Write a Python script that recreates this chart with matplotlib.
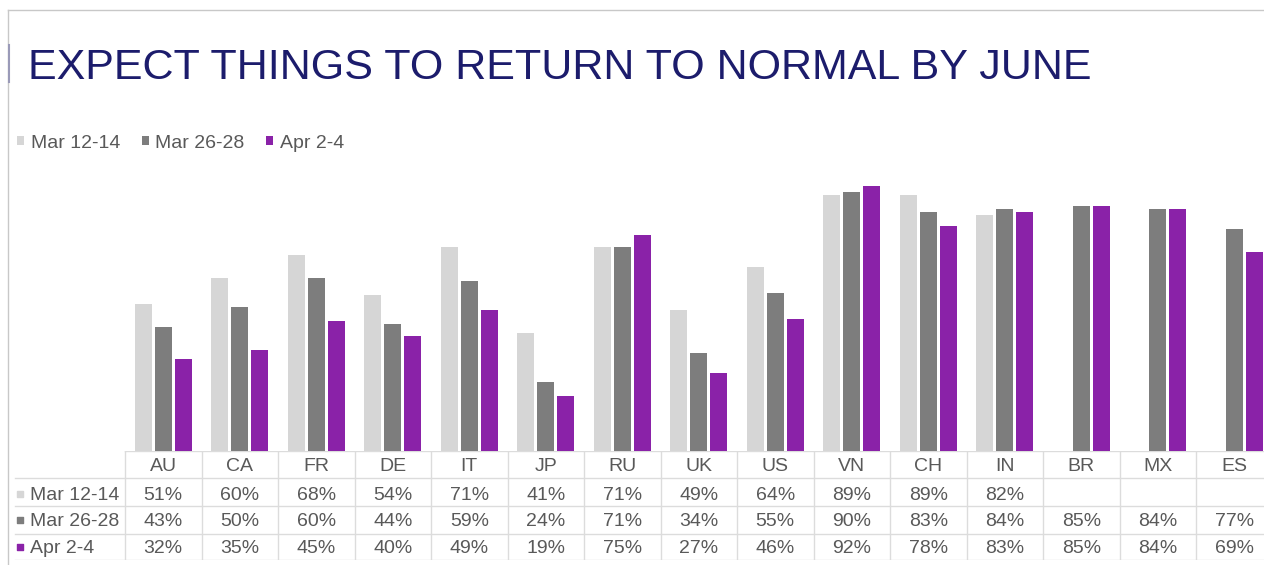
import matplotlib
matplotlib.use("Agg")
import matplotlib.pyplot as plt
import numpy as np
from matplotlib.lines import Line2D

plt.rcParams["font.family"] = ["Liberation Sans", "DejaVu Sans"]

# data
countries = ["AU", "CA", "FR", "DE", "IT", "JP", "RU", "UK", "US",
             "VN", "CH", "IN", "BR", "MX", "ES"]
series_labels = ["Mar 12-14", "Mar 26-28", "Apr 2-4"]
mar_12_14 = [51, 60, 68, 54, 71, 41, 71, 49, 64, 89, 89, 82, np.nan, np.nan, np.nan]
mar_26_28 = [43, 50, 60, 44, 59, 24, 71, 34, 55, 90, 83, 84, 85, 84, 77]
apr_2_4 = [32, 35, 45, 40, 49, 19, 75, 27, 46, 92, 78, 83, 85, 84, 69]

colors = ["#d6d6d6", "#7d7d7d", "#8a22a8"]
text_gray = "#595959"
grid_gray = "#dcdcdc"

# layout in pixels
W, H = 1264, 565
x0, colw = 125, 76.5          # first table column start, column width
base_y, top_y = 451, 163      # 0% and 100% positions
row_edges = [451, 478, 506, 534, 560]
row_baseline = [471, 500, 526, 553]

fig = plt.figure(figsize=(W / 100, H / 100), dpi=100)
fig.patch.set_facecolor("white")

# slide frame
fig.add_artist(Line2D([8 / W, 1], [1 - 10 / H] * 2, color="#c8c8c8", lw=1))
fig.add_artist(Line2D([8 / W] * 2, [0, 1 - 10 / H], color="#c8c8c8", lw=1))
fig.add_artist(Line2D([9 / W] * 2, [1 - 45 / H, 1 - 82 / H], color="#9a9ab8", lw=1.5))

fig.text(28 / W, 1 - 79 / H, "EXPECT THINGS TO RETURN TO NORMAL BY JUNE",
         fontsize=31, color="#1c1c6c", ha="left", va="baseline")

# bars
right = -0.5 + (W - x0) / colw
ax = fig.add_axes([x0 / W, 1 - base_y / H, 1 - x0 / W, (base_y - top_y) / H])
x = np.arange(len(countries))
series = [mar_12_14, mar_26_28, apr_2_4]
offsets = [-0.26, 0.0, 0.26]
bars = []
for vals, off, c, lab in zip(series, offsets, colors, series_labels):
    bars.append(ax.bar(x + off, vals, 0.22, color=c, label=lab))
ax.set_xlim(-0.5, right)
ax.set_ylim(0, 100)
ax.axis("off")

fig.legend(handles=bars, loc="center left", bbox_to_anchor=(17 / W, 1 - 143 / H),
           ncol=3, frameon=False, borderpad=0, borderaxespad=0,
           handlelength=0.36, handleheight=0.28, handletextpad=0.35,
           columnspacing=1.1, fontsize=14, labelcolor=text_gray)

# data table (y in pixel rows, x in column units)
tab = fig.add_axes([0, 1 - row_edges[-1] / H, 1, (row_edges[-1] - row_edges[0]) / H])
left = -0.5 - x0 / colw
tab.set_xlim(left, right)
tab.set_ylim(row_edges[-1], row_edges[0])
tab.axis("off")
label_x = left + 15 / colw

tab.plot([-0.5, right], [row_edges[0]] * 2, color=grid_gray, lw=1)
for e in row_edges[1:]:
    tab.plot([label_x, right], [e, e], color=grid_gray, lw=1)
for k in range(len(countries) + 1):
    tab.plot([k - 0.5, k - 0.5], [row_edges[0], row_edges[-1]], color=grid_gray, lw=1)

for i, name in enumerate(countries):
    tab.text(i, row_baseline[0], name, ha="center", va="baseline", fontsize=14, color=text_gray)

for r, (vals, c, lab) in enumerate(zip(series, colors, series_labels)):
    y = row_baseline[r + 1]
    tab.scatter([left + 20 / colw], [y - 6], marker="s", s=24, color=c)
    tab.text(left + 30 / colw, y, lab, ha="left", va="baseline", fontsize=14, color=text_gray)
    for i, v in enumerate(vals):
        if not np.isnan(v):
            tab.text(i, y, f"{v:.0f}%", ha="center", va="baseline", fontsize=14, color=text_gray)

fig.savefig("out.png", dpi=100)
